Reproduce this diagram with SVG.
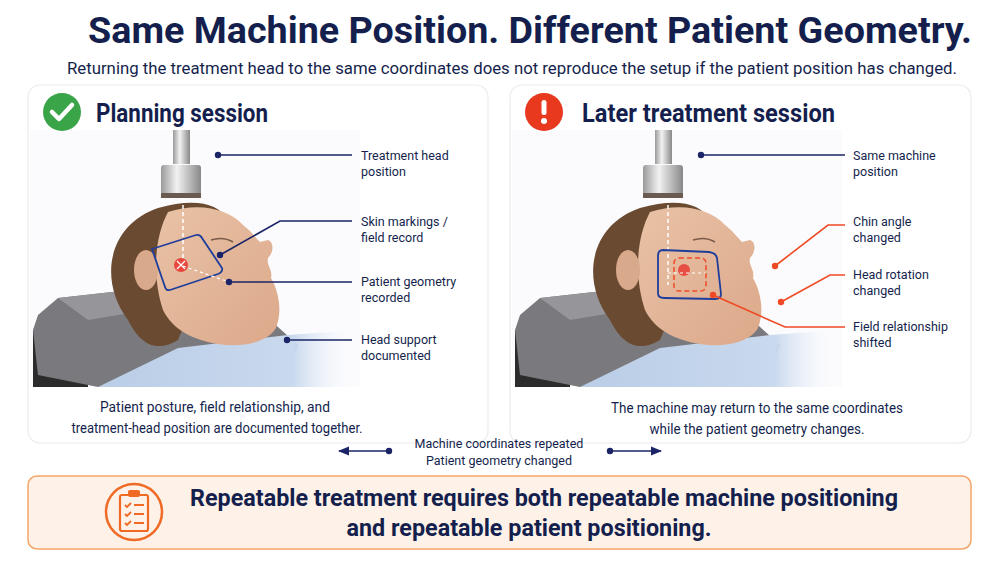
<svg xmlns="http://www.w3.org/2000/svg" width="1000" height="563" viewBox="0 0 1000 563">
<style>
.t{font-family:Roboto,"Liberation Sans",sans-serif;fill:#141f4d}
.lab{font-family:Roboto,"Liberation Sans",sans-serif;fill:#141f4d;font-size:12.5px}
.cap{font-family:Roboto,"Liberation Sans",sans-serif;fill:#141f4d;font-size:14px;text-anchor:middle}
.nv{stroke:#1a2466;stroke-width:1.6;fill:none}
.rd{stroke:#ef4a25;stroke-width:1.6;fill:none}
.panel{fill:#fff;stroke:#ececf0;stroke-width:1.2}
</style>
<defs>
<linearGradient id="metal" x1="0" x2="1"><stop offset="0" stop-color="#9a9a9a"/><stop offset=".4" stop-color="#f2f2f2"/><stop offset="1" stop-color="#888"/></linearGradient>
<linearGradient id="gown" x1="0" x2="1"><stop offset="0" stop-color="#b9cde6"/><stop offset=".75" stop-color="#c9d9ee"/><stop offset="1" stop-color="#fff" stop-opacity="0"/></linearGradient>
<linearGradient id="skin" x1="0" y1="0" x2="1" y2="1"><stop offset="0" stop-color="#e9c2a6"/><stop offset="1" stop-color="#dca88a"/></linearGradient>
<marker id="ah" viewBox="0 0 10 10" refX="9" refY="5" markerWidth="7" markerHeight="7" orient="auto-start-reverse"><path d="M0,1 L10,5 L0,9 Z" fill="#1a2466"/></marker>
<g id="scene">
<rect x="2" y="0" width="330" height="257" fill="#fbfbfd"/>
<path d="M5,200 L5,257 L60,257 L60,210 Z" fill="#2b2b2b"/>
<path d="M5,200 L10,185 L30,168 L120,158 L220,170 L270,215 L260,245 L70,257 L10,245 Z" fill="#7a7a7e"/>
<path d="M30,168 L120,158 L150,175 L60,190 Z" fill="#96969a"/>
<path d="M70,257 L150,218 L260,205 L330,200 L330,257 Z" fill="url(#gown)"/>
<path d="M100,190 C70,150 80,95 130,78 C165,68 190,72 200,90 L150,210 C125,225 110,210 100,190 Z" fill="#6b4a32"/>
<path d="M140,82 C170,72 200,78 215,95 C222,100 228,108 232,112 L240,110 C246,112 246,122 240,128 C238,135 245,140 243,148 C250,160 255,180 248,198 C240,212 215,218 190,214 C165,210 145,200 135,180 C125,150 125,110 140,82 Z" fill="url(#skin)"/>
<path d="M183,110 Q195,106 205,112" stroke="#7a5a48" stroke-width="1.5" fill="none"/>
<ellipse cx="118" cy="140" rx="12" ry="20" fill="#d9a98c"/>
<rect x="145" y="0" width="17" height="34" fill="url(#metal)"/>
<rect x="133" y="35" width="40" height="30" rx="3" fill="url(#metal)"/>
<rect x="133" y="63" width="40" height="5" fill="#6a5a50"/>
</g>
</defs>
<rect width="1000" height="563" fill="#fff"/>
<text class="t" x="530" y="43" font-size="37" font-weight="bold" text-anchor="middle" textLength="884" lengthAdjust="spacingAndGlyphs">Same Machine Position. Different Patient Geometry.</text>
<text class="t" x="512" y="74" font-size="16" text-anchor="middle" textLength="890" lengthAdjust="spacingAndGlyphs">Returning the treatment head to the same coordinates does not reproduce the setup if the patient position has changed.</text>

<g id="planning">
<rect class="panel" x="28" y="85" width="460" height="358" rx="12"/>
<use href="#scene" x="28" y="130"/>
<circle cx="62" cy="112" r="19" fill="#3aa548"/>
<path d="M52,112 L59,119 L72,105" stroke="#fff" stroke-width="4.5" fill="none" stroke-linecap="round" stroke-linejoin="round"/>
<text class="t" x="96" y="122" font-size="25" font-weight="bold" textLength="172" lengthAdjust="spacingAndGlyphs">Planning session</text>
<line x1="183" y1="198" x2="183" y2="262" stroke="#fff" stroke-width="1.5" stroke-dasharray="4 3"/>
<path d="M152,249 L196,235 Q200,234 202,238 L222,268 Q223,272 218,274 L170,290 Q166,291 165,287 Z" stroke="#1f3e9c" stroke-width="1.8" fill="none"/>
<circle cx="181" cy="265" r="7" fill="#e8342e" opacity=".85"/>
<path d="M177,261 L185,269 M185,261 L177,269" stroke="#fff" stroke-width="1.2"/>
<line x1="183" y1="266" x2="229" y2="282" stroke="#fff" stroke-width="1.2" stroke-dasharray="3 3"/>
</g>
<g id="planning-labels">
<path class="nv" d="M218,155 H352"/><circle cx="218" cy="155" r="3.2" fill="#1a2466"/>
<text class="lab"><tspan x="361" y="160">Treatment head</tspan><tspan x="361" y="176">position</tspan></text>
<path class="nv" d="M220,255 L280,221 H352"/><circle cx="220" cy="255" r="3.2" fill="#1a2466"/>
<text class="lab"><tspan x="361" y="226">Skin markings /</tspan><tspan x="361" y="242">field record</tspan></text>
<path class="nv" d="M229,282 H352"/><circle cx="229" cy="282" r="3.2" fill="#1a2466"/>
<text class="lab"><tspan x="361" y="286">Patient geometry</tspan><tspan x="361" y="302">recorded</tspan></text>
<path class="nv" d="M287,340 H352"/><circle cx="287" cy="340" r="3.2" fill="#1a2466"/>
<text class="lab"><tspan x="361" y="344">Head support</tspan><tspan x="361" y="360">documented</tspan></text>
<text class="cap"><tspan x="215" y="412" textLength="230" lengthAdjust="spacingAndGlyphs">Patient posture, field relationship, and</tspan><tspan x="217" y="433" textLength="291" lengthAdjust="spacingAndGlyphs">treatment-head position are documented together.</tspan></text>
</g>

<g id="later">
<rect class="panel" x="510" y="85" width="461" height="358" rx="12"/>
<use href="#scene" x="510" y="130"/>
<circle cx="544" cy="112" r="19" fill="#e8391f"/>
<rect x="541.5" y="100" width="5" height="15" rx="2.5" fill="#fff"/><circle cx="544" cy="121" r="3" fill="#fff"/>
<text class="t" x="582" y="122" font-size="25" font-weight="bold" textLength="253" lengthAdjust="spacingAndGlyphs">Later treatment session</text>
<line x1="668" y1="198" x2="668" y2="285" stroke="#fff" stroke-width="1.5" stroke-dasharray="4 3"/>
<path d="M663,250 L709,252 Q716,253 717,258 L721,294 Q721,299 715,299 L664,298 Q658,298 658,293 L658,256 Q658,250 663,250 Z" stroke="#1f3e9c" stroke-width="1.8" fill="none"/>
<rect x="674" y="258" width="32" height="33" rx="5" stroke="#ef4a25" stroke-width="1.5" fill="none" stroke-dasharray="5 3"/>
<circle cx="684" cy="270" r="6" fill="#e8342e" opacity=".8"/>
<line x1="668" y1="273" x2="705" y2="273" stroke="#fff" stroke-width="1.2" stroke-dasharray="3 3"/>
</g>
<g id="later-labels">
<path class="nv" d="M701,155 H845"/><circle cx="701" cy="155" r="3.2" fill="#1a2466"/>
<text class="lab"><tspan x="853" y="160">Same machine</tspan><tspan x="853" y="176">position</tspan></text>
<path class="rd" d="M775,266 L828,225 H845"/><circle cx="775" cy="266" r="3.2" fill="#ef4a25"/>
<text class="lab"><tspan x="853" y="226">Chin angle</tspan><tspan x="853" y="242">changed</tspan></text>
<path class="rd" d="M781,302 L830,275 H845"/><circle cx="781" cy="302" r="3.2" fill="#ef4a25"/>
<text class="lab"><tspan x="853" y="279">Head rotation</tspan><tspan x="853" y="295">changed</tspan></text>
<path class="rd" d="M713,295 L785,327 H845"/><circle cx="713" cy="295" r="3.2" fill="#ef4a25"/>
<text class="lab"><tspan x="853" y="331">Field relationship</tspan><tspan x="853" y="347">shifted</tspan></text>
<text class="cap"><tspan x="757" y="413" textLength="292" lengthAdjust="spacingAndGlyphs">The machine may return to the same coordinates</tspan><tspan x="757" y="434" textLength="215" lengthAdjust="spacingAndGlyphs">while the patient geometry changes.</tspan></text>
</g>

<g id="connectors">
<line x1="390" y1="451" x2="339" y2="451" stroke="#1a2466" stroke-width="1.6" marker-end="url(#ah)"/>
<circle cx="389" cy="451" r="3.2" fill="#1a2466"/>
<line x1="610" y1="451" x2="661" y2="451" stroke="#1a2466" stroke-width="1.6" marker-end="url(#ah)"/>
<circle cx="610" cy="451" r="3.2" fill="#1a2466"/>
<text class="t" font-size="12.5" text-anchor="middle"><tspan x="499" y="448">Machine coordinates repeated</tspan><tspan x="499" y="465">Patient geometry changed</tspan></text>
</g>

<g id="banner">
<rect x="28" y="476" width="943" height="73" rx="9" fill="#fdf1e8" stroke="#f5a56a" stroke-width="1.5"/>
<circle cx="134" cy="512" r="28" fill="none" stroke="#ef6a24" stroke-width="2.5"/>
<rect x="120" y="495" width="28" height="36" rx="2" fill="none" stroke="#ef6a24" stroke-width="2.2"/>
<rect x="128" y="490" width="12" height="7" rx="2" fill="#ef6a24"/>
<g stroke="#ef6a24" stroke-width="1.8" fill="none">
<path d="M125,505 l2,2 l4,-4 M134,505 H144 M125,514 l2,2 l4,-4 M134,514 H144 M125,523 l2,2 l4,-4 M134,523 H144"/>
</g>
<text class="t" font-size="23" font-weight="bold" text-anchor="middle"><tspan x="544" y="506" textLength="708" lengthAdjust="spacingAndGlyphs">Repeatable treatment requires both repeatable machine positioning</tspan><tspan x="529" y="536" textLength="365" lengthAdjust="spacingAndGlyphs">and repeatable patient positioning.</tspan></text>
</g>
</svg>
